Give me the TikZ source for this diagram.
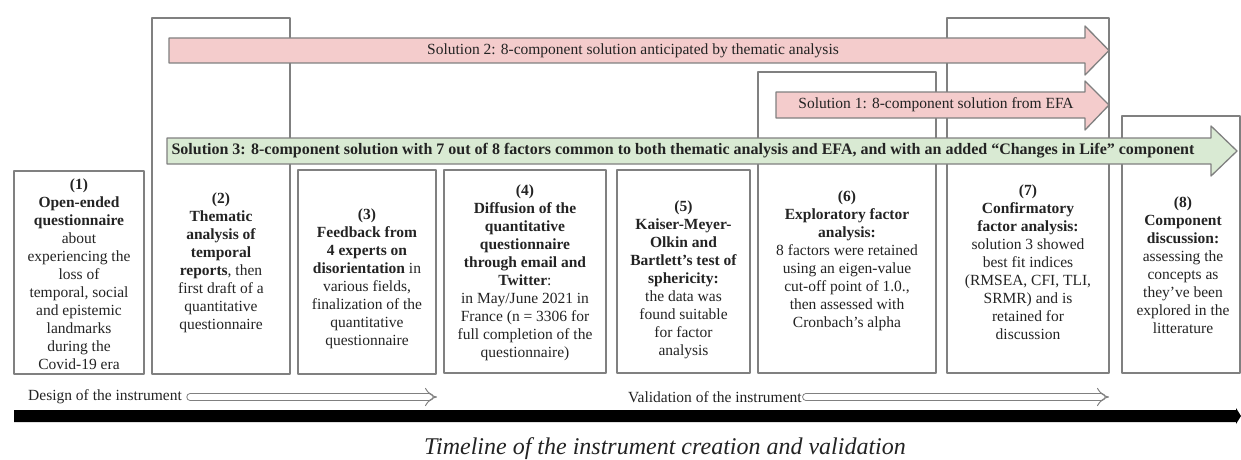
\documentclass[tikz,border=0pt]{standalone}
\usepackage{fontspec}
\setmainfont{Liberation Serif}
\usetikzlibrary{arrows.meta}

\definecolor{solred}{RGB}{244,204,204}
\definecolor{solgreen}{RGB}{217,234,211}
\definecolor{edgegray}{RGB}{128,128,128}
\definecolor{ink}{RGB}{35,35,35}

\tikzset{
  stepbox/.style={draw=edgegray, line width=1.3pt},
  solarrow/.style={draw=edgegray, line width=1.3pt},
  boxtext/.style={align=center, text=ink, inner sep=0pt, font=\fontsize{15.5}{18}\selectfont},
  soltext/.style={text=ink, inner sep=0pt, font=\fontsize{15.5}{18}\selectfont},
  phasetext/.style={text=ink, inner sep=0pt, anchor=west, font=\fontsize{15.5}{18}\selectfont},
  hollow/.style={draw=edgegray, double=white, double distance=5.5pt, line width=1pt, -{Implies}}
}

\begin{document}
\begin{tikzpicture}[line cap=round,line join=round,x=1pt,y=-1pt]
\useasboundingbox (0,0) rectangle (1241,460);

% steps
\draw[stepbox] (14,171) rectangle (144,374);
\draw[stepbox] (152,18) rectangle (290,374);
\draw[stepbox] (298,170) rectangle (436,374);
\draw[stepbox] (444,170) rectangle (606,373);
\draw[stepbox] (617,170) rectangle (750,373);
\draw[stepbox] (758,72) rectangle (936,373);
\draw[stepbox] (947,18) rectangle (1109,373);
\draw[stepbox] (1122,116) rectangle (1240,373);

% solutions
\draw[solarrow,fill=solred] (169,38) -- (1085,38) -- (1085,26) -- (1109,50.5) -- (1085,75) -- (1085,63) -- (169,63) -- cycle;
\draw[solarrow,fill=solred] (776,92) -- (1085,92) -- (1085,81) -- (1109,105) -- (1085,130) -- (1085,118) -- (776,118) -- cycle;
\draw[solarrow,fill=solgreen] (167,138) -- (1211,138) -- (1211,126) -- (1237,151) -- (1211,176) -- (1211,164) -- (167,164) -- cycle;
\node[soltext] (sol2) at (633,50.5) {Solution 2: 8-component solution anticipated by thematic analysis};
\node[soltext] (sol1) at (936,105) {Solution 1: 8-component solution from EFA};
\node[soltext,font=\fontsize{16}{18}\selectfont\bfseries] (sol3) at (683,151) {Solution 3: 8-component solution with 7 out of 8 factors common to both thematic analysis and EFA, and with an added “Changes in Life” component};

% step texts
\node[boxtext] (step1) at (79,274) {\textbf{(1)}\\\textbf{Open-ended}\\\textbf{questionnaire}\\about\\experiencing the\\loss of\\temporal, social\\and epistemic\\landmarks\\during the\\Covid-19 era};
\node[boxtext] (step2) at (221,263) {\textbf{(2)}\\\textbf{Thematic}\\\textbf{analysis of}\\\textbf{temporal}\\\textbf{reports}, then\\first draft of a\\quantitative\\questionnaire};
\node[boxtext] (step3) at (367,279) {\textbf{(3)}\\\textbf{Feedback from}\\\textbf{4 experts on}\\\textbf{disorientation} in\\various fields,\\finalization of the\\quantitative\\questionnaire};
\node[boxtext] (step4) at (525,273) {\textbf{(4)}\\\textbf{Diffusion of the}\\\textbf{quantitative}\\\textbf{questionnaire}\\\textbf{through email and}\\\textbf{Twitter}:\\in May/June 2021 in\\France (n = 3306 for\\full completion of the\\questionnaire)};
\node[boxtext] (step5) at (683.5,280) {\textbf{(5)}\\\textbf{Kaiser-Meyer-}\\\textbf{Olkin and}\\\textbf{Bartlett’s test of}\\\textbf{sphericity:}\\the data was\\found suitable\\for factor\\analysis};
\node[boxtext] (step6) at (847,261) {\textbf{(6)}\\\textbf{Exploratory factor}\\\textbf{analysis:}\\8 factors were retained\\using an eigen-value\\cut-off point of 1.0.,\\then assessed with\\Cronbach’s alpha};
\node[boxtext] (step7) at (1028,262) {\textbf{(7)}\\\textbf{Confirmatory}\\\textbf{factor analysis:}\\solution 3 showed\\best fit indices\\(RMSEA, CFI, TLI,\\SRMR) and is\\retained for\\discussion};
\node[boxtext] (step8) at (1183,265) {\textbf{(8)}\\\textbf{Component}\\\textbf{discussion:}\\assessing the\\concepts as\\they’ve been\\explored in the\\litterature};

% phases
\node[phasetext] (design) at (28,397) {Design of the instrument};
\node[phasetext] (valid) at (628,397) {Validation of the instrument};
\coordinate (designend) at (437,397);
\coordinate (validend) at (1109,397);
\draw[hollow] ([xshift=8pt]design.east) -- (designend);
\draw[hollow] ([xshift=4pt]valid.east) -- (validend);

% timeline
\fill[black] (14,410) -- (1236,410) -- (1236,408) -- (1241,416) -- (1236,424) -- (1236,422) -- (14,422) -- cycle;
\node[text=ink, font=\fontsize{24}{28}\selectfont\itshape] (caption) at (665,449) {Timeline of the instrument creation and validation};
\end{tikzpicture}
\end{document}
